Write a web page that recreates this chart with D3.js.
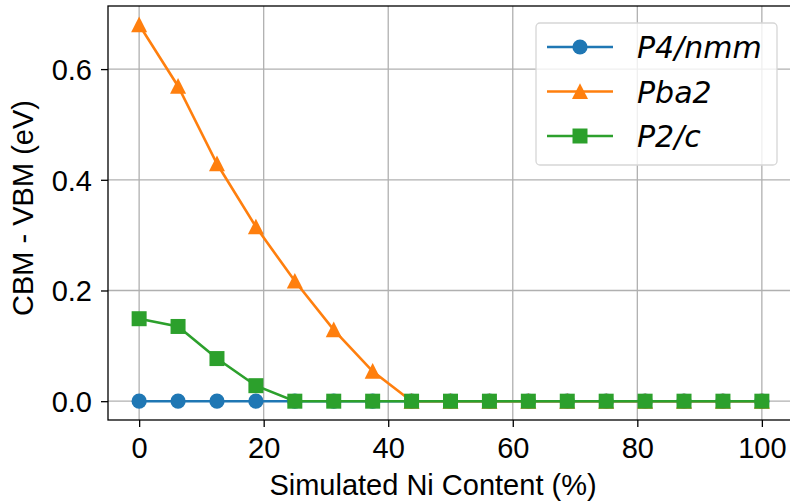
<!DOCTYPE html>
<html>
<head>
<meta charset="utf-8">
<script src="https://cdn.jsdelivr.net/npm/d3@7"></script>
<style>
  body { margin: 0; background: #fff; }
  svg { display: block; font-family: "Liberation Sans", Arial, sans-serif; }
</style>
</head>
<body>
<div class="chart"></div>
<script>
var margin = {top: 6, right: -3, bottom: 81, left: 108}
var W = 790, H = 501
var width = W - margin.left - margin.right
var height = H - margin.top - margin.bottom

// Ni content (%)
var niContent = [0, 6.25, 12.5, 18.75, 25, 31.25, 37.5, 43.75, 50, 56.25, 62.5, 68.75, 75, 81.25, 87.5, 93.75, 100]
var p4nmm = [0, 0, 0, 0, 0, 0, 0, 0, 0, 0, 0, 0, 0, 0, 0, 0, 0]
var pba2  = [0.68, 0.569, 0.429, 0.315, 0.217, 0.129, 0.054, 0, 0, 0, 0, 0, 0, 0, 0, 0, 0]
var p2c   = [0.149, 0.135, 0.077, 0.028, 0, 0, 0, 0, 0, 0, 0, 0, 0, 0, 0, 0, 0]
var xTicks = [0, 20, 40, 60, 80, 100]
var yTicks = [0, 0.2, 0.4, 0.6]

var series = [
  {name: 'P4/nmm', values: p4nmm, color: '#1f77b4', marker: 'circle'},
  {name: 'Pba2', values: pba2, color: '#ff7f0e', marker: 'triangle'},
  {name: 'P2/c', values: p2c, color: '#2ca02c', marker: 'square'}
]

var svg = d3.select('.chart').append('svg')
  .attr('width', W)
  .attr('height', H)

var g = svg.append('g').attr('transform', 'translate(' + margin.left + ',' + margin.top + ')')

var x = d3.scaleLinear().domain([-5, 105]).range([0, width])
var y = d3.scaleLinear().domain([-0.034, 0.714]).range([height, 0])

// grid
g.selectAll('.gx').data(xTicks).enter().append('line')
  .attr('x1', function(d) { return x(d) }).attr('x2', function(d) { return x(d) })
  .attr('y1', 0).attr('y2', height)
  .attr('stroke', '#b0b0b0').attr('stroke-width', 1.3)
g.selectAll('.gy').data(yTicks).enter().append('line')
  .attr('y1', function(d) { return y(d) }).attr('y2', function(d) { return y(d) })
  .attr('x1', 0).attr('x2', width)
  .attr('stroke', '#b0b0b0').attr('stroke-width', 1.3)

// axes
var xAxis = g.append('g').attr('transform', 'translate(0,' + height + ')')
  .call(d3.axisBottom(x).tickValues(xTicks).tickSize(7).tickPadding(10).tickFormat(d3.format('d')))
var yAxis = g.append('g')
  .call(d3.axisLeft(y).tickValues(yTicks).tickSize(7).tickPadding(9).tickFormat(d3.format('.1f')))
;[xAxis, yAxis].forEach(function(a) {
  a.select('.domain').remove()
  a.selectAll('line').attr('stroke', '#000').attr('stroke-width', 1.3)
  a.selectAll('text').attr('font-size', 29).attr('fill', '#000')
    .attr('font-family', '"Liberation Sans", Arial, sans-serif')
})
yAxis.selectAll('text').attr('dy', '0.36em')

// frame
g.append('rect').attr('width', width).attr('height', height)
  .attr('fill', 'none').attr('stroke', '#000').attr('stroke-width', 1.3)

// matplotlib-like triangle: as wide and tall as the square, centred on its box
var triType = {
  draw: function(ctx, size) {
    var h = Math.sqrt(size) / 2
    ctx.moveTo(0, -h - 0.7)
    ctx.lineTo(h + 0.5, h)
    ctx.lineTo(-h - 0.5, h)
    ctx.closePath()
  }
}
var sym = {
  circle: d3.symbol().type(d3.symbolCircle).size(Math.PI * 7.6 * 7.6),
  triangle: d3.symbol().type(triType).size(15 * 15),
  square: d3.symbol().type(d3.symbolSquare).size(15 * 15)
}

var line = d3.line()
  .x(function(d, i) { return x(niContent[i]) })
  .y(function(d) { return y(d) })

series.forEach(function(s) {
  var sg = g.append('g')
  sg.append('path').datum(s.values)
    .attr('d', line)
    .attr('fill', 'none').attr('stroke', s.color).attr('stroke-width', 2.6)
  sg.selectAll('path.m').data(s.values).enter().append('path')
    .attr('class', 'm')
    .attr('transform', function(d, i) {
      return 'translate(' + x(niContent[i]) + ',' + y(d) + ')'
    })
    .attr('d', sym[s.marker])
    .attr('fill', s.color)
})

// legend
var lg = svg.append('g').attr('transform', 'translate(536,23)')
lg.append('rect').attr('width', 241).attr('height', 142).attr('rx', 4)
  .attr('fill', 'rgba(255,255,255,0.8)').attr('stroke', '#d6d6d6').attr('stroke-width', 1.3)
series.forEach(function(s, i) {
  var ry = 24 + i * 44.5
  lg.append('line').attr('x1', 11).attr('x2', 77).attr('y1', ry).attr('y2', ry)
    .attr('stroke', s.color).attr('stroke-width', 2.6)
  lg.append('path').attr('transform', 'translate(44,' + ry + ')')
    .attr('d', sym[s.marker]).attr('fill', s.color)
  lg.append('text').attr('x', 101).attr('y', ry + 11)
    .attr('font-family', '"DejaVu Sans", sans-serif').attr('font-style', 'italic')
    .attr('font-size', 30).text(s.name)
})

// axis labels
svg.append('text')
  .attr('x', 433).attr('y', 495)
  .attr('text-anchor', 'middle').attr('font-size', 29)
  .text('Simulated Ni Content (%)')
svg.append('text')
  .attr('transform', 'translate(33,208) rotate(-90)')
  .attr('text-anchor', 'middle').attr('font-size', 29)
  .text('CBM - VBM (eV)')
</script>
</body>
</html>
